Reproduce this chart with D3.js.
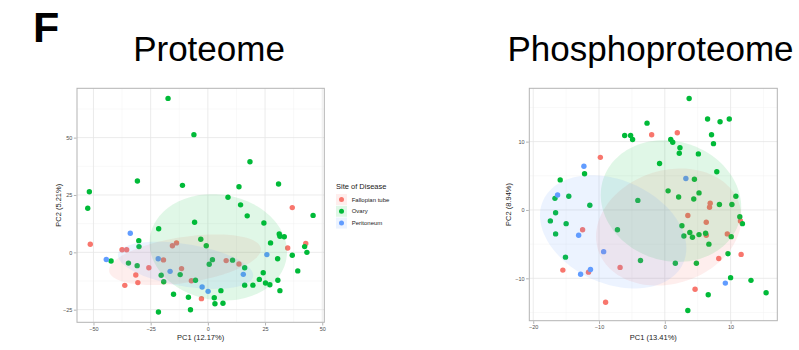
<!DOCTYPE html>
<html>
<head>
<meta charset="utf-8">
<script src="https://cdn.jsdelivr.net/npm/d3@7"></script>
<style>
  body { margin: 0; background: #fff; }
  svg { display: block; font-family: "Liberation Sans", Arial, sans-serif; }
</style>
</head>
<body>
<div id="chart"></div>
<script>
// group names and colours (ggplot default hue palette)
const groups = ["Fallopian tube", "Ovary", "Peritoneum"];
const groupColors = ["#F8766D", "#00BA38", "#619CFF"];

// Proteome PCA scores
const protFallopian = [[-51.4,3.5],[-37.5,1.1],[-35.5,1.1],[-15.5,2.9],[-13.7,4.1],[36.9,19.5],[34.9,1.9],[42.8,3.9],
  [-25.8,-6.7],[-19.4,-3.3],[-11.5,-7.1],[-31.5,-9.9],[-30.6,-13.2],[-36.3,-14.4],[-7.2,-12.4],[-2.8,-20.2],[8.0,-3.6],[13.6,-5.1]];
const protOvary = [[-17.4,67.1],[-6.1,51.3],[18.4,39.5],[-30.8,31.1],[-11.1,29.2],[30.9,29.8],[13.6,28.6],[-51.8,26.4],
  [-52.5,19.2],[8.8,24.0],[14.3,20.7],[17.2,15.9],[46.0,16.1],[24.5,12.8],[-5.8,13.1],[-21.5,10.3],[31.2,8.0],[31.5,7.0],
  [33.4,6.8],[-30.2,5.1],[-30.1,2.5],[-3.1,5.7],[27.4,4.1],[-0.7,2.9],[42.3,2.5],[43.3,0.0],[-42.3,-3.8],[-34.7,-4.7],
  [-30.9,-5.8],[0.6,-5.2],[2.0,-3.2],[10.8,-3.4],[16.1,-6.7],[30.5,-2.8],[36.9,-1.3],[-20.4,-10.0],[-12.1,-9.7],[-19.3,-12.8],
  [-5.4,-12.2],[24.2,-8.9],[22.5,-11.8],[25.2,-13.4],[27.1,-14.1],[30.6,-12.2],[39.3,-8.1],[16.1,-14.3],[19.7,-14.3],
  [31.5,-16.7],[-15.0,-18.3],[5.7,-16.7],[-8.5,-19.6],[2.8,-19.8],[3.1,-22.4],[6.6,-22.2],[-7.6,-25.0],[-21.6,-26.0]];
const protPeritoneum = [[-33.9,8.3],[-44.4,-3.1],[-21.7,-2.8],[-16.5,-8.3],[-2.5,-15.1],[0.1,-17.0],[15.5,-9.6],[25.8,-1.0]];

// Phosphoproteome PCA scores
const phosFallopian = [[1.9,11.3],[-2.0,11.0],[-9.8,7.7],[-12.5,-2.9],[3.5,-0.8],[6.9,1.0],[6.8,0.4],[6.3,-1.8],[6.3,-3.7],
  [9.5,-3.5],[11.5,-1.6],[11.6,-6.5],[8.2,-7.1],[-15.5,-8.8],[-11.6,-9.1],[-6.8,-8.4],[4.6,-11.6],[-9.0,-13.5]];
const phosOvary = [[3.7,16.3],[6.5,13.3],[8.4,12.9],[9.8,13.3],[-2.7,12.7],[-6.1,10.9],[-5.2,10.9],[-4.9,10.3],[0.9,10.3],
  [1.2,9.9],[7.1,11.0],[7.4,9.7],[2.3,9.1],[2.2,8.3],[5.1,8.2],[-0.8,6.8],[7.9,5.6],[4.5,4.5],[-15.9,4.4],[-12.2,5.3],
  [5.2,2.5],[0.5,2.8],[2.1,1.9],[4.4,1.6],[-4.1,1.4],[-14.6,2.0],[-16.7,1.7],[-11.4,0.7],[8.3,0.8],[10.2,0.8],[10.8,2.0],
  [-16.6,-0.4],[-17.4,-1.6],[-15.0,-2.0],[-16.6,-3.5],[11.4,-1.0],[11.8,-2.0],[2.6,-2.3],[-7.2,-2.9],[3.8,-3.3],[2.9,-3.8],
  [4.2,-4.0],[5.2,-3.6],[6.2,-3.4],[10.1,-3.9],[6.7,-5.0],[9.6,-6.4],[-15.1,-6.9],[-3.7,-7.4],[1.6,-7.8],[4.8,-7.8],
  [10.0,-9.9],[13.1,-10.3],[15.4,-12.1],[6.6,-12.4],[3.5,-14.7]];
const phosPeritoneum = [[-12.3,6.4],[-16.3,2.2],[3.2,4.6],[-13.1,-3.7],[-9.3,-6.1],[-11.3,-8.7],[-12.8,-9.4],[9.2,-10.7]];

// 95% ellipses per group: centre, semi-axes, rotation (deg)
const protEllipses = [[-10.0,-3.25,33.5,9.95,8.6],[4.55,2.15,30.2,23.0,-9.2],[-9.75,-5.65,29.9,9.2,-9.3]];
const phosEllipses = [[0.6,-2.5,11.25,8.3,16.1],[0.94,1.3,10.8,8.75,-14.7],[-7.85,-3.2,11.6,7.6,-22]];

// axis ticks
const protXTicks = [-50,-25,0,25,50], protYTicks = [-25,0,25,50];
const phosXTicks = [-20,-10,0,10], phosYTicks = [-10,0,10];
const protXMinor = [-37.5,-12.5,12.5,37.5], protYMinor = [-12.5,12.5,37.5,62.5];
const phosXMinor = [-15,-5,5,15], phosYMinor = [-15,-5,5,15];

const width = 799, height = 350;
const svg = d3.select("#chart").append("svg").attr("width", width).attr("height", height);

svg.append("text").attr("x", 33).attr("y", 41.5)
  .attr("font-size", 43).attr("font-weight", "bold").attr("fill", "#000").text("F");

function drawPanel(opt) {
  const x = d3.scaleLinear().domain(opt.xDomain).range([opt.left, opt.right]);
  const y = d3.scaleLinear().domain(opt.yDomain).range([opt.bottom, opt.top]);
  const g = svg.append("g");

  // title
  g.append("text").attr("x", opt.titleX).attr("y", 61).attr("text-anchor", "middle")
    .attr("font-size", 35).attr("fill", "#000").text(opt.title);

  // grid
  g.selectAll(".vminor").data(opt.xMinor).enter().append("line")
    .attr("x1", d => x(d)).attr("x2", d => x(d)).attr("y1", opt.top).attr("y2", opt.bottom)
    .attr("stroke", "#f2f2f2").attr("stroke-width", 0.5);
  g.selectAll(".hminor").data(opt.yMinor).enter().append("line")
    .attr("y1", d => y(d)).attr("y2", d => y(d)).attr("x1", opt.left).attr("x2", opt.right)
    .attr("stroke", "#f2f2f2").attr("stroke-width", 0.5);
  g.selectAll(".vmajor").data(opt.xTicks).enter().append("line")
    .attr("x1", d => x(d)).attr("x2", d => x(d)).attr("y1", opt.top).attr("y2", opt.bottom)
    .attr("stroke", "#e6e6e6").attr("stroke-width", 0.8);
  g.selectAll(".hmajor").data(opt.yTicks).enter().append("line")
    .attr("y1", d => y(d)).attr("y2", d => y(d)).attr("x1", opt.left).attr("x2", opt.right)
    .attr("stroke", "#e6e6e6").attr("stroke-width", 0.8);

  // points
  opt.points.forEach((pts, i) => {
    g.selectAll(".pt" + i).data(pts).enter().append("circle")
      .attr("cx", d => x(d[0])).attr("cy", d => y(d[1])).attr("r", 2.7)
      .attr("fill", groupColors[i]);
  });

  // ellipses, drawn over the points
  const line = d3.line().x(d => x(d[0])).y(d => y(d[1])).curve(d3.curveLinearClosed);
  opt.ellipses.forEach((e, i) => {
    const [cx, cy, a, b, ang] = e;
    const th = ang * Math.PI / 180;
    const pts = d3.range(0, 2 * Math.PI, Math.PI / 60).map(t => [
      cx + a * Math.cos(t) * Math.cos(th) - b * Math.sin(t) * Math.sin(th),
      cy + a * Math.cos(t) * Math.sin(th) + b * Math.sin(t) * Math.cos(th)
    ]);
    g.append("path").attr("d", line(pts)).attr("fill", groupColors[i]).attr("fill-opacity", 0.12);
  });

  // border
  g.append("rect").attr("x", opt.left).attr("y", opt.top)
    .attr("width", opt.right - opt.left).attr("height", opt.bottom - opt.top)
    .attr("fill", "none").attr("stroke", "#b3b3b3").attr("stroke-width", 1);

  // axes
  const xAxis = d3.axisBottom(x).tickValues(opt.xTicks).tickSize(2.7).tickPadding(1.5).tickFormat(d3.format("d"));
  const yAxis = d3.axisLeft(y).tickValues(opt.yTicks).tickSize(2.7).tickPadding(1.5).tickFormat(d3.format("d"));
  const ax = g.append("g").attr("transform", `translate(0,${opt.bottom + 0.5})`).call(xAxis);
  const ay = g.append("g").attr("transform", `translate(${opt.left - 0.5},0)`).call(yAxis);
  [ax, ay].forEach(a => {
    a.select(".domain").remove();
    a.selectAll(".tick line").attr("stroke", "#b3b3b3");
    a.selectAll(".tick text").attr("fill", "#4d4d4d").attr("font-size", 5.5)
      .attr("font-family", "Liberation Sans, Arial, sans-serif");
  });

  g.append("text").attr("x", (opt.left + opt.right) / 2).attr("y", 340)
    .attr("text-anchor", "middle").attr("font-size", 7.5).attr("fill", "#1a1a1a").text(opt.xLabel);
  g.append("text").attr("transform", `translate(${opt.yLabelX},${(opt.top + opt.bottom) / 2}) rotate(-90)`)
    .attr("text-anchor", "middle").attr("font-size", 7.5).attr("fill", "#1a1a1a").text(opt.yLabel);
}

drawPanel({
  title: "Proteome", titleX: 209,
  xDomain: [-57.2, 50.9], yDomain: [-30.5, 71.5],
  left: 77, right: 324.3, top: 88.3, bottom: 322.3,
  xTicks: protXTicks, yTicks: protYTicks, xMinor: protXMinor, yMinor: protYMinor,
  points: [protFallopian, protOvary, protPeritoneum], ellipses: protEllipses,
  xLabel: "PC1 (12.17%)", yLabel: "PC2 (5.21%)", yLabelX: 61
});

drawPanel({
  title: "Phosphoproteome", titleX: 650.5,
  xDomain: [-20.6, 17.1], yDomain: [-16.2, 17.8],
  left: 529.3, right: 777.3, top: 88.3, bottom: 320.7,
  xTicks: phosXTicks, yTicks: phosYTicks, xMinor: phosXMinor, yMinor: phosYMinor,
  points: [phosFallopian, phosOvary, phosPeritoneum], ellipses: phosEllipses,
  xLabel: "PC1 (13.41%)", yLabel: "PC2 (8.94%)", yLabelX: 511
});

// legend
const legend = svg.append("g");
legend.append("text").attr("x", 336).attr("y", 188.5).attr("font-size", 7.5).attr("fill", "#1a1a1a")
  .text("Site of Disease");
const item = legend.selectAll(".item").data(groups).enter().append("g")
  .attr("transform", (d, i) => `translate(336,${194 + i * 11.8})`);
item.append("rect").attr("width", 11).attr("height", 11).attr("fill", "#fff");
item.append("rect").attr("width", 11).attr("height", 11)
  .attr("fill", (d, i) => groupColors[i]).attr("fill-opacity", 0.12);
item.append("circle").attr("cx", 5.5).attr("cy", 5.5).attr("r", 2.5).attr("fill", (d, i) => groupColors[i]);
item.append("text").attr("x", 15.7).attr("y", 7.6).attr("font-size", 6).attr("fill", "#1a1a1a").text(d => d);
</script>
</body>
</html>
